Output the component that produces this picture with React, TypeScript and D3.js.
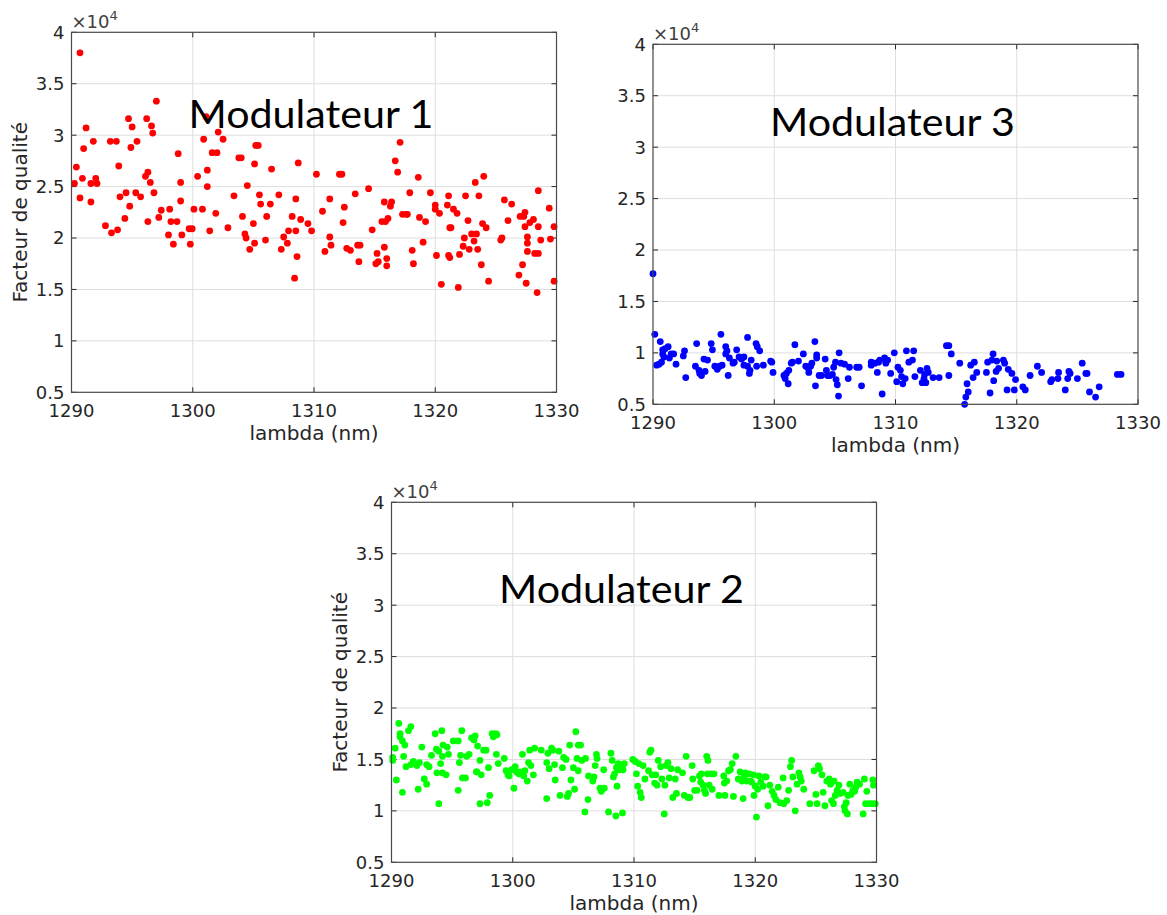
import React from 'react';
import * as d3 from 'd3';

// ---------- axes ----------
const xTicks = [1290, 1300, 1310, 1320, 1330];
const yTicks = [0.5, 1, 1.5, 2, 2.5, 3, 3.5, 4];
const xDomain: [number, number] = [1290, 1330];
const yDomain: [number, number] = [0.5, 4];
const xLabel = 'lambda (nm)';
const yLabel = 'Facteur de qualité';

// ---------- data: [lambda (nm), Q (x1e4)] ----------
const mod1: [number, number][] = [
  [1290.24, 2.53], [1290.4, 2.69], [1290.7, 3.8], [1290.7, 2.39], [1290.9, 2.58], [1291.0, 2.87], [1291.2, 3.07],
  [1291.6, 2.35], [1291.6, 2.53], [1291.8, 2.94], [1292.0, 2.58], [1292.1, 2.53], [1292.8, 2.12], [1293.3, 2.05],
  [1293.2, 2.94], [1293.7, 2.94], [1293.8, 2.08], [1293.9, 2.7], [1294.0, 2.4], [1294.4, 2.19], [1294.5, 2.44],
  [1294.7, 3.16], [1294.8, 2.31], [1294.9, 2.88], [1295.0, 3.08], [1295.3, 2.44], [1295.4, 2.94], [1295.7, 2.4],
  [1296.2, 3.16], [1296.1, 2.6], [1296.3, 2.64], [1296.3, 2.16], [1296.5, 2.54], [1296.6, 3.09], [1296.7, 3.02],
  [1296.8, 2.44], [1297.0, 3.33], [1297.2, 2.2], [1297.4, 2.27], [1298.0, 2.03], [1298.1, 2.28], [1298.2, 2.16],
  [1298.4, 1.94], [1298.7, 2.16], [1298.8, 2.82], [1299.0, 2.54], [1299.0, 2.36], [1299.1, 2.03], [1299.7, 2.09],
  [1299.8, 1.94], [1299.95, 2.09], [1300.1, 2.28], [1300.4, 2.6], [1300.8, 2.28], [1300.9, 2.96], [1301.1, 3.18],
  [1301.2, 2.66], [1301.2, 2.5], [1301.4, 2.07], [1301.6, 2.83], [1301.9, 2.24], [1302.0, 2.83], [1302.1, 3.03],
  [1302.5, 2.96], [1302.9, 2.1], [1303.4, 2.41], [1303.8, 2.78], [1304.0, 2.78], [1304.1, 2.21], [1304.3, 2.04],
  [1304.4, 2.0], [1304.5, 2.51], [1304.7, 1.89], [1305.0, 2.14], [1305.1, 1.95], [1305.1, 2.72], [1305.2, 2.9],
  [1305.4, 2.9], [1305.5, 2.42], [1305.6, 2.33], [1306.0, 1.98], [1306.1, 2.21], [1306.4, 2.33], [1306.5, 2.67],
  [1307.1, 2.42], [1307.3, 1.89], [1307.5, 2.01], [1307.8, 1.95], [1307.9, 2.07], [1308.2, 2.21], [1308.4, 1.61],
  [1308.5, 2.07], [1308.5, 2.38], [1308.6, 1.82], [1308.7, 2.73], [1308.9, 2.18], [1309.5, 2.14], [1309.8, 2.07],
  [1310.2, 2.62], [1310.7, 2.26], [1310.9, 1.87], [1311.3, 2.01], [1311.3, 2.38], [1311.4, 1.93], [1312.1, 2.62],
  [1312.3, 2.62], [1312.4, 2.15], [1312.5, 2.3], [1312.7, 1.9], [1313.0, 1.88], [1313.4, 2.43], [1313.6, 1.93],
  [1313.7, 1.77], [1313.8, 1.93], [1314.5, 2.48], [1314.8, 2.08], [1315.1, 1.75], [1315.2, 1.85], [1315.3, 1.77],
  [1315.6, 2.16], [1315.8, 2.35], [1315.8, 1.91], [1315.9, 2.16], [1316.0, 1.8], [1316.0, 1.73], [1316.1, 2.19],
  [1316.3, 2.31], [1316.4, 2.35], [1316.7, 2.75], [1316.9, 2.64], [1317.1, 2.93], [1317.3, 2.23], [1317.6, 2.23],
  [1317.7, 2.23], [1317.9, 2.44], [1318.1, 1.88], [1318.2, 1.75], [1318.6, 2.59], [1318.7, 2.2], [1319.0, 1.96],
  [1319.2, 2.16], [1319.6, 2.44], [1320.0, 2.28], [1320.0, 2.32], [1320.1, 1.83], [1320.35, 2.24], [1320.5, 1.55],
  [1321.0, 2.32], [1321.1, 2.41], [1321.1, 1.83], [1321.2, 1.81], [1321.2, 2.1], [1321.3, 2.1], [1321.5, 2.28],
  [1321.8, 2.24], [1321.9, 1.52], [1322.0, 1.84], [1322.3, 1.92], [1322.4, 2.0], [1322.5, 2.41], [1322.7, 2.17],
  [1322.8, 1.89], [1323.0, 2.04], [1323.2, 1.97], [1323.3, 2.54], [1323.4, 2.04], [1323.5, 1.89], [1323.6, 2.41],
  [1323.8, 1.74], [1323.9, 2.14], [1324.0, 2.6], [1324.2, 2.1], [1324.4, 1.58], [1325.4, 1.98], [1325.5, 2.0],
  [1325.7, 2.37], [1326.0, 2.17], [1326.3, 2.33], [1326.9, 1.64], [1327.0, 2.21], [1327.2, 1.74], [1327.3, 2.21],
  [1327.4, 2.25], [1327.4, 2.11], [1327.5, 1.56], [1327.6, 2.01], [1327.6, 1.95], [1327.6, 1.87], [1327.8, 2.15],
  [1328.1, 2.18], [1328.2, 1.85], [1328.5, 2.11], [1328.5, 2.46], [1328.4, 1.47], [1328.5, 1.85], [1328.7, 1.98],
  [1329.4, 2.29], [1329.5, 1.99], [1329.8, 2.11], [1329.8, 1.58],
];

const mod3: [number, number][] = [
  [1290.0, 1.77], [1290.15, 1.18], [1290.3, 0.88], [1290.5, 0.89], [1290.6, 1.11], [1290.7, 0.91], [1290.8, 0.99],
  [1290.8, 1.03], [1290.9, 0.96], [1291.0, 1.04], [1291.25, 1.06], [1291.35, 0.95], [1291.5, 0.99], [1291.7, 0.99],
  [1291.9, 0.89], [1292.5, 0.97], [1292.6, 1.02], [1292.7, 0.76], [1293.6, 1.09], [1293.5, 0.87], [1293.8, 0.83],
  [1293.85, 0.8], [1294.0, 0.78], [1294.2, 0.94], [1294.3, 0.82], [1294.5, 0.93], [1294.8, 1.09], [1294.9, 1.03],
  [1295.1, 0.87], [1295.3, 0.84], [1295.5, 0.87], [1295.6, 1.18], [1295.7, 0.88], [1296.0, 1.06], [1296.0, 0.99],
  [1296.1, 1.02], [1296.2, 0.78], [1296.3, 0.95], [1296.6, 0.9], [1296.7, 0.91], [1296.9, 1.03], [1297.1, 0.96],
  [1297.3, 0.94], [1297.5, 0.96], [1297.5, 0.88], [1297.8, 1.15], [1297.8, 0.87], [1297.95, 0.8], [1298.0, 0.83],
  [1298.1, 0.93], [1298.5, 1.09], [1298.6, 1.06], [1298.55, 0.87], [1298.8, 1.02], [1299.1, 0.88], [1299.7, 0.92],
  [1299.8, 0.91], [1299.9, 0.81], [1300.8, 0.78], [1300.9, 0.75], [1301.0, 0.8], [1301.15, 0.7], [1301.2, 0.83],
  [1301.4, 0.9], [1301.5, 0.91], [1301.7, 1.08], [1302.0, 0.92], [1302.4, 0.99], [1302.6, 0.87], [1302.8, 0.85],
  [1302.85, 0.81], [1303.0, 0.87], [1303.1, 0.9], [1303.35, 1.11], [1303.4, 0.68], [1303.5, 0.98], [1303.5, 0.95],
  [1303.7, 0.78], [1303.9, 0.78], [1304.2, 0.94], [1304.3, 0.83], [1304.4, 0.78], [1304.6, 0.78], [1304.8, 0.79],
  [1304.9, 0.86], [1305.05, 0.91], [1305.1, 0.74], [1305.2, 0.69], [1305.3, 0.58], [1305.35, 1.0], [1305.5, 0.9],
  [1305.8, 0.89], [1306.1, 0.75], [1306.2, 0.86], [1306.8, 0.86], [1307.0, 0.86], [1307.2, 0.68], [1308.0, 0.91],
  [1308.0, 0.88], [1308.3, 0.9], [1308.5, 0.81], [1308.6, 0.91], [1308.7, 0.93], [1308.9, 0.6], [1309.1, 0.95],
  [1309.2, 0.9], [1309.35, 0.93], [1309.6, 0.8], [1309.9, 1.0], [1310.1, 0.72], [1310.2, 0.86], [1310.4, 0.83],
  [1310.5, 0.77], [1310.6, 0.7], [1310.8, 0.75], [1310.9, 1.02], [1311.1, 0.91], [1311.4, 0.93], [1311.5, 1.02],
  [1311.6, 0.77], [1312.05, 0.83], [1312.2, 0.71], [1312.35, 0.75], [1312.4, 0.79], [1312.5, 0.71], [1312.6, 0.85],
  [1312.7, 0.81], [1313.1, 0.76], [1313.6, 0.76], [1314.2, 1.07], [1314.4, 1.07], [1314.4, 0.78], [1314.6, 0.99],
  [1315.3, 0.9], [1315.7, 0.5], [1315.8, 0.57], [1316.0, 0.62], [1315.9, 0.7], [1316.2, 0.88], [1316.5, 0.91],
  [1316.4, 0.76], [1316.7, 0.81], [1317.5, 0.81], [1317.6, 0.91], [1317.8, 0.61], [1317.95, 0.93], [1318.05, 0.99],
  [1318.1, 0.73], [1318.3, 0.82], [1318.35, 0.92], [1318.5, 0.85], [1318.9, 0.93], [1319.0, 0.9], [1319.2, 0.64],
  [1319.3, 0.84], [1319.6, 0.8], [1319.8, 0.64], [1319.9, 0.74], [1320.5, 0.67], [1320.7, 0.64], [1321.1, 0.78],
  [1321.7, 0.87], [1322.05, 0.81], [1322.8, 0.72], [1322.9, 0.74], [1323.4, 0.75], [1323.45, 0.81], [1324.0, 0.64],
  [1324.2, 0.75], [1324.3, 0.82], [1324.4, 0.8], [1325.0, 0.75], [1325.4, 0.9], [1325.7, 0.8], [1325.8, 0.8],
  [1326.0, 0.62], [1326.5, 0.57], [1326.8, 0.67], [1328.3, 0.79], [1328.6, 0.79],
];

const mod2: [number, number][] = [
  [1290.1, 1.52], [1290.1, 1.49], [1290.3, 1.61], [1290.4, 1.3], [1290.6, 1.85], [1290.7, 1.75], [1290.7, 1.72],
  [1290.9, 1.68], [1290.9, 1.18], [1291.0, 1.53], [1291.1, 1.64], [1291.2, 1.43], [1291.4, 1.78], [1291.6, 1.82],
  [1291.6, 1.45], [1291.8, 1.48], [1292.1, 1.44], [1292.2, 1.21], [1292.3, 1.47], [1292.5, 1.62], [1292.7, 1.31],
  [1292.9, 1.26], [1292.9, 1.45], [1293.1, 1.43], [1293.3, 1.54], [1293.6, 1.75], [1293.7, 1.6], [1293.75, 1.37],
  [1293.9, 1.07], [1293.9, 1.58], [1294.05, 1.46], [1294.15, 1.78], [1294.2, 1.53], [1294.25, 1.64], [1294.2, 1.37],
  [1294.5, 1.35], [1294.6, 1.62], [1294.7, 1.55], [1295.1, 1.68], [1295.5, 1.68], [1295.5, 1.2], [1295.6, 1.47],
  [1295.7, 1.54], [1295.8, 1.78], [1295.85, 1.32], [1296.1, 1.32], [1296.2, 1.53], [1296.4, 1.55], [1296.6, 1.71],
  [1296.8, 1.69], [1296.9, 1.73], [1297.0, 1.38], [1297.05, 1.38], [1297.1, 1.63], [1297.3, 1.07], [1297.3, 1.49],
  [1297.4, 1.35], [1297.6, 1.59], [1297.8, 1.59], [1297.9, 1.08], [1298.0, 1.42], [1298.1, 1.15], [1298.3, 1.75],
  [1298.4, 1.72], [1298.6, 1.75], [1298.7, 1.74], [1298.65, 1.55], [1298.8, 1.46], [1299.3, 1.51], [1299.45, 1.39],
  [1299.6, 1.35], [1299.7, 1.34], [1299.9, 1.4], [1300.1, 1.22], [1300.2, 1.43], [1300.3, 1.38], [1300.5, 1.36],
  [1300.6, 1.38], [1300.8, 1.55], [1300.9, 1.34], [1301.0, 1.39], [1301.2, 1.29], [1301.3, 1.47], [1301.4, 1.59],
  [1301.5, 1.44], [1301.7, 1.35], [1301.8, 1.61], [1302.35, 1.59], [1302.8, 1.12], [1302.8, 1.47], [1302.9, 1.56],
  [1303.0, 1.41], [1303.2, 1.61], [1303.3, 1.59], [1303.45, 1.45], [1303.5, 1.3], [1303.8, 1.58], [1303.9, 1.15],
  [1304.1, 1.42], [1304.2, 1.52], [1304.4, 1.5], [1304.5, 1.14], [1304.6, 1.17], [1304.7, 1.64], [1304.8, 1.3],
  [1305.0, 1.42], [1305.1, 1.21], [1305.2, 1.77], [1305.3, 1.51], [1305.4, 1.64], [1305.4, 1.39], [1305.6, 1.64],
  [1305.7, 1.49], [1305.95, 0.99], [1306.0, 1.51], [1306.2, 1.11], [1306.25, 1.34], [1306.6, 1.29], [1306.7, 1.33],
  [1306.8, 1.44], [1306.9, 1.55], [1306.95, 1.51], [1307.2, 1.22], [1307.3, 1.19], [1307.5, 1.4], [1307.55, 1.22],
  [1307.9, 0.99], [1308.1, 1.56], [1308.2, 1.49], [1308.3, 1.33], [1308.4, 1.36], [1308.5, 0.95], [1308.55, 1.42],
  [1308.6, 1.24], [1308.7, 1.46], [1308.8, 1.4], [1308.95, 1.45], [1309.05, 0.98], [1309.1, 1.4], [1309.2, 1.46],
  [1309.9, 1.5], [1310.1, 1.48], [1310.2, 1.36], [1310.3, 1.24], [1310.4, 1.46], [1310.5, 1.18], [1310.6, 1.13],
  [1310.75, 1.44], [1310.9, 1.31], [1311.2, 1.39], [1311.3, 1.57], [1311.4, 1.59], [1311.5, 1.35], [1311.7, 1.27],
  [1311.8, 1.35], [1311.9, 1.25], [1312.0, 1.49], [1312.2, 1.43], [1312.3, 1.31], [1312.5, 0.97], [1312.55, 1.25],
  [1312.65, 1.44], [1312.8, 1.47], [1312.9, 1.32], [1313.05, 1.41], [1313.2, 1.13], [1313.4, 1.31], [1313.5, 1.17],
  [1313.6, 1.4], [1314.0, 1.37], [1314.15, 1.15], [1314.3, 1.53], [1314.45, 1.13], [1314.6, 1.13], [1314.8, 1.44],
  [1314.85, 1.31], [1315.0, 1.2], [1315.2, 1.2], [1315.4, 1.34], [1315.5, 1.28], [1315.55, 1.36], [1315.7, 1.25],
  [1315.8, 1.2], [1315.9, 1.17], [1316.0, 1.53], [1316.05, 1.36], [1316.1, 1.49], [1316.2, 1.25], [1316.35, 1.36],
  [1316.45, 1.21], [1316.6, 1.36], [1317.0, 1.15], [1317.4, 1.34], [1317.45, 1.27], [1317.5, 1.15], [1317.65, 1.29],
  [1317.8, 1.39], [1317.95, 1.4], [1318.1, 1.46], [1318.2, 1.14], [1318.4, 1.53], [1318.6, 1.31], [1318.75, 1.38],
  [1318.9, 1.29], [1319.0, 1.12], [1319.1, 1.34], [1319.2, 1.37], [1319.3, 1.29], [1319.5, 1.36], [1319.6, 1.29],
  [1319.7, 1.28], [1319.85, 1.35], [1319.9, 1.15], [1320.0, 1.24], [1320.1, 0.94], [1320.2, 1.21], [1320.3, 1.34],
  [1320.45, 1.28], [1320.65, 1.24], [1320.8, 1.33], [1320.9, 1.33], [1321.05, 1.05], [1321.2, 1.25], [1321.4, 1.19],
  [1321.55, 1.15], [1321.7, 1.11], [1321.9, 1.23], [1322.05, 1.08], [1322.3, 1.32], [1322.35, 1.07], [1322.6, 1.1],
  [1322.75, 1.2], [1322.9, 1.43], [1323.0, 1.49], [1323.1, 1.33], [1323.3, 1.0], [1323.45, 1.26], [1323.6, 1.37],
  [1323.7, 1.33], [1323.8, 1.29], [1324.0, 1.21], [1324.5, 1.07], [1324.85, 1.39], [1325.0, 1.16], [1325.1, 1.07],
  [1325.2, 1.44], [1325.3, 1.41], [1325.5, 1.35], [1325.6, 1.18], [1325.75, 1.05], [1325.9, 1.29], [1326.1, 1.31],
  [1326.2, 1.26], [1326.3, 1.1], [1326.45, 1.07], [1326.5, 1.29], [1326.6, 1.15], [1326.75, 1.2], [1326.9, 1.25],
  [1327.0, 1.17], [1327.25, 1.18], [1327.35, 1.04], [1327.4, 1.0], [1327.5, 1.08], [1327.6, 0.97], [1327.65, 1.15],
  [1327.8, 1.26], [1327.9, 1.16], [1328.05, 1.2], [1328.2, 1.19], [1328.3, 1.23], [1328.4, 1.28], [1328.6, 1.26],
  [1328.9, 0.97], [1329.0, 1.31], [1329.1, 1.07], [1329.2, 1.19], [1329.4, 1.07], [1329.6, 1.07], [1329.7, 1.3],
  [1329.75, 1.25], [1329.9, 1.07],
];

// ---------- layout ----------
const PW = 485;
const PH = 360;

type PanelCfg = {
  data: [number, number][];
  color: string;
  title: string;
  left: number;
  top: number;
  titleDx: number;
  titleDy: number;
  showYLabel: boolean;
};

const panels: PanelCfg[] = [
  { data: mod1, color: '#ff0000', title: 'Modulateur 1', left: 71.5, top: 32.3, titleDx: 117, titleDy: 96, showYLabel: true },
  { data: mod3, color: '#0000ff', title: 'Modulateur 3', left: 653, top: 44.3, titleDx: 117, titleDy: 92, showYLabel: false },
  { data: mod2, color: '#00ff00', title: 'Modulateur 2', left: 391.5, top: 502.3, titleDx: 107.5, titleDy: 101, showYLabel: true },
];

const AX = '#262626';
const TICK_FONT = '"DejaVu Sans", sans-serif';

function Panel({ cfg }: { cfg: PanelCfg }) {
  const x = d3.scaleLinear().domain(xDomain).range([0, PW]);
  const y = d3.scaleLinear().domain(yDomain).range([PH, 0]);
  const tl = 5;
  return (
    <g transform={`translate(${cfg.left},${cfg.top})`}>
      <rect x={0} y={0} width={PW} height={PH} fill="#ffffff" />
      {/* grid */}
      {xTicks.slice(1, -1).map((t) => (
        <line key={'gx' + t} x1={x(t)} x2={x(t)} y1={0} y2={PH} stroke="#dedede" strokeWidth={1} />
      ))}
      {yTicks.slice(1, -1).map((t) => (
        <line key={'gy' + t} x1={0} x2={PW} y1={y(t)} y2={y(t)} stroke="#dedede" strokeWidth={1} />
      ))}
      {/* ticks (inward, mirrored) */}
      {xTicks.map((t) => (
        <g key={'tx' + t}>
          <line x1={x(t)} x2={x(t)} y1={PH} y2={PH - tl} stroke={AX} strokeWidth={1} />
          <line x1={x(t)} x2={x(t)} y1={0} y2={tl} stroke={AX} strokeWidth={1} />
        </g>
      ))}
      {yTicks.map((t) => (
        <g key={'ty' + t}>
          <line x1={0} x2={tl} y1={y(t)} y2={y(t)} stroke={AX} strokeWidth={1} />
          <line x1={PW} x2={PW - tl} y1={y(t)} y2={y(t)} stroke={AX} strokeWidth={1} />
        </g>
      ))}
      {/* data */}
      {cfg.data.map((d, i) => (
        <circle key={i} cx={x(d[0])} cy={y(d[1])} r={3.4} fill={cfg.color} />
      ))}
      {/* box */}
      <rect x={0} y={0} width={PW} height={PH} fill="none" stroke="#4a4a4a" strokeWidth={1.2} />
      {/* tick labels */}
      {xTicks.map((t) => (
        <text key={'lx' + t} x={x(t)} y={PH + 25} textAnchor="middle" fontFamily={TICK_FONT} fontSize={18} fill={AX}>
          {t}
        </text>
      ))}
      {yTicks.map((t) => (
        <text key={'ly' + t} x={-7} y={y(t)} dy="0.36em" textAnchor="end" fontFamily={TICK_FONT} fontSize={18} fill={AX}>
          {t}
        </text>
      ))}
      {/* exponent */}
      <text x={0} y={-4} fontFamily={TICK_FONT} fontSize={18} fill="#404040">
        ×10
        <tspan fontSize={13} dy={-8}>4</tspan>
      </text>
      {/* axis labels */}
      <text x={PW / 2} y={PH + 48} textAnchor="middle" fontFamily={TICK_FONT} fontSize={20} fill={AX}>
        {xLabel}
      </text>
      {cfg.showYLabel && (
        <text
          transform={`translate(${-44.5},${PH / 2}) rotate(-90)`}
          textAnchor="middle"
          fontFamily={TICK_FONT}
          fontSize={20}
          fill={AX}
        >
          {yLabel}
        </text>
      )}
      {/* annotation */}
      <text
        x={cfg.titleDx}
        y={cfg.titleDy}
        fontFamily="Lato, 'Open Sans', sans-serif"
        fontSize={38}
        fill="#000000"
        textLength={245}
        lengthAdjust="spacingAndGlyphs"
      >
        {cfg.title}
      </text>
    </g>
  );
}

export default function App() {
  return (
    <svg
      width={1167}
      height={915}
      viewBox="0 0 1167 915"
      style={{ position: 'absolute', left: 0, top: 0, background: '#ffffff' }}
    >
      <rect x={0} y={0} width={1167} height={915} fill="#ffffff" />
      {panels.map((p) => (
        <Panel key={p.title} cfg={p} />
      ))}
    </svg>
  );
}
